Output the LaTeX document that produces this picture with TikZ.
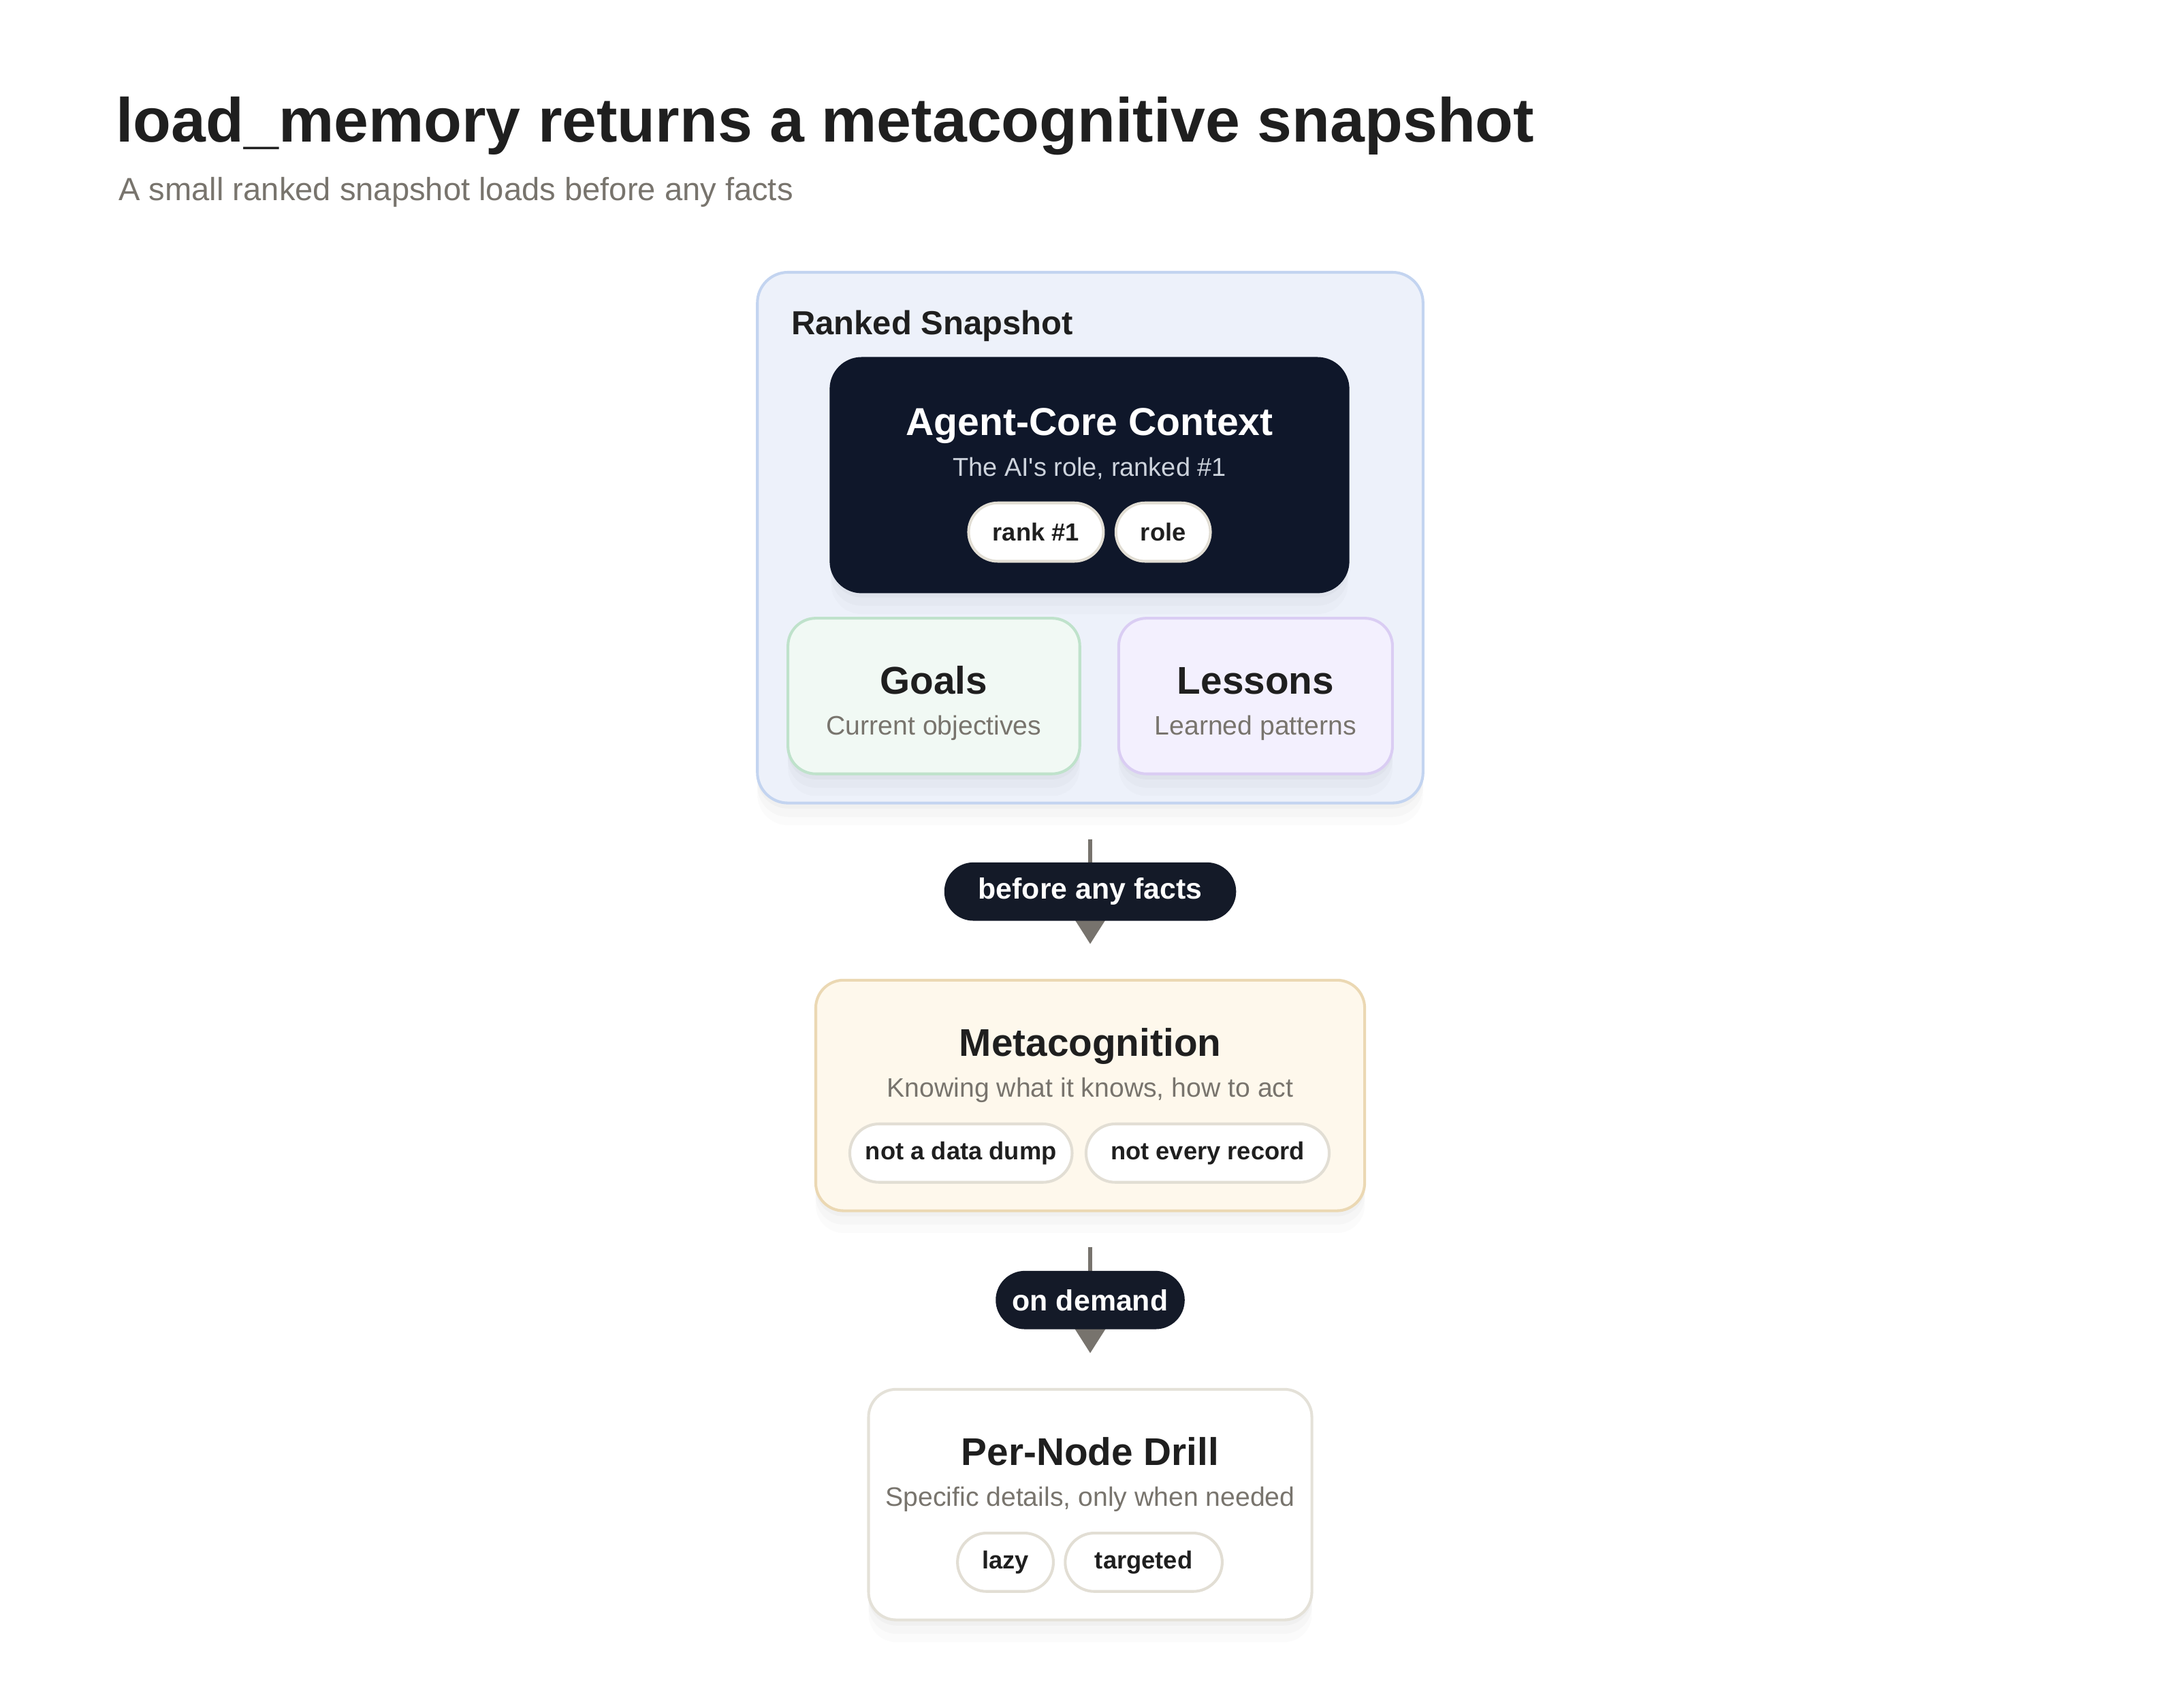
\documentclass[tikz,border=0pt]{standalone}
\usepackage{fontspec}
\setmainfont{Liberation Sans}
\usetikzlibrary{arrows.meta,shadows}

\definecolor{ink}{HTML}{1F1F1F}
\definecolor{muted}{HTML}{78746D}
\definecolor{navy}{HTML}{0F172A}
\definecolor{tagnavy}{HTML}{141A28}
\definecolor{coresub}{HTML}{CDD3DC}
\definecolor{pillrim}{HTML}{E2DED4}
\definecolor{snapfill}{HTML}{EDF1FA}
\definecolor{snaprim}{HTML}{C3D4F0}
\definecolor{goalfill}{HTML}{F1F9F4}
\definecolor{goalrim}{HTML}{BFE2CB}
\definecolor{lessonfill}{HTML}{F3F0FE}
\definecolor{lessonrim}{HTML}{DACDF3}
\definecolor{metafill}{HTML}{FEF8EC}
\definecolor{metarim}{HTML}{EBD8B3}
\definecolor{drillrim}{HTML}{E4E1D8}
\definecolor{wire}{HTML}{77736D}

\begin{document}
\begin{tikzpicture}
    [x=0.5pt, y=-0.5pt,
    card/.style={draw, line width=1pt, rounded corners=10pt,
        general shadow={shadow yshift=-2pt, opacity=0.025, fill=black},
        general shadow={shadow yshift=-5pt, opacity=0.02, fill=black},
        general shadow={shadow yshift=-8pt, opacity=0.015, fill=black}},
    pill/.style={draw=pillrim, fill=white, line width=1pt, rounded corners=10.5pt,
        minimum height=21pt, inner sep=0pt, text=ink,
        font=\fontsize{8.9}{10}\selectfont\bfseries},
    tag/.style={fill=tagnavy, rounded corners=10.5pt, minimum height=21pt,
        inner sep=0pt, text=white, font=\fontsize{10.5}{12}\selectfont\bfseries},
    flow/.style={draw=wire, line width=1.5pt,
        -{Triangle[width=11pt,length=9pt]},
        shorten <=12.5pt, shorten >=12.5pt},
    heading/.style={anchor=base, text=ink, font=\fontsize{13.9}{16}\selectfont\bfseries},
    caption/.style={anchor=base, text=muted, font=\fontsize{9.6}{11}\selectfont}
    ]
    \useasboundingbox[fill=white] (0,0) rectangle (1568,1229);

    % title
    \node (title) [anchor=base west, inner sep=0pt, text=ink,
        font=\fontsize{22.4}{26}\selectfont\bfseries] at (83,102)
        {load\_memory returns a metacognitive snapshot};
    \node (subtitle) [anchor=base west, inner sep=0pt, text=muted,
        font=\fontsize{11.55}{14}\selectfont] at (85,144.5)
        {A small ranked snapshot loads before any facts};

    % ranked snapshot
    \node (snap) [card, draw=snaprim, fill=snapfill, rounded corners=11pt,
        minimum width=239.5pt, minimum height=191pt] at (784.5,387) {};
    \node (snaplabel) [anchor=base west, inner sep=0pt, text=ink,
        font=\fontsize{12}{14}\selectfont\bfseries] at (569,241) {Ranked Snapshot};

    \node (core) [card, draw=navy, fill=navy, rounded corners=11pt,
        minimum width=186pt, minimum height=84pt] at (784,342) {};
    \node (coretitle) [anchor=base, text=white,
        font=\fontsize{14}{16}\selectfont\bfseries] at (784,313.5) {Agent-Core Context};
    \node (coresub) [anchor=base, text=coresub,
        font=\fontsize{9.3}{11}\selectfont] at (784,343) {The AI\textquotesingle s role, ranked \#1};
    \node (rank) [pill, minimum width=48.5pt] at (745.5,383) {rank \#1};
    \node (role) [pill, minimum width=34pt] at (837,383) {role};

    \node (goals) [card, draw=goalrim, fill=goalfill,
        minimum width=105pt, minimum height=56pt] at (672,501) {};
    \node (goalstitle) [heading] at (672,499.5) {Goals};
    \node (goalssub) [caption] at (672,529) {Current objectives};

    \node (lessons) [card, draw=lessonrim, fill=lessonfill,
        minimum width=98.5pt, minimum height=56pt] at (903.5,501) {};
    \node (lessonstitle) [heading] at (903.5,499.5) {Lessons};
    \node (lessonssub) [caption] at (903.5,529) {Learned patterns};

    % metacognition
    \node (meta) [card, draw=metarim, fill=metafill,
        minimum width=197.5pt, minimum height=83pt] at (784.5,788.5) {};
    \node (metatitle) [heading] at (784.5,760) {Metacognition};
    \node (metasub) [caption] at (784.5,789.5) {Knowing what it knows, how to act};
    \node (dump) [pill, minimum width=80pt] at (691.5,830) {not a data dump};
    \node (record) [pill, minimum width=87.5pt] at (869,830) {not every record};

    % per-node drill
    \node (drill) [card, draw=drillrim, fill=white,
        minimum width=159.5pt, minimum height=83pt] at (784.5,1083) {};
    \node (drilltitle) [heading] at (784.5,1054.5) {Per-Node Drill};
    \node (drillsub) [caption] at (784.5,1084) {Specific details, only when needed};
    \node (lazy) [pill, minimum width=34.5pt] at (723.5,1124.5) {lazy};
    \node (targeted) [pill, minimum width=56.5pt] at (823,1124.5) {targeted};

    % flow
    \draw [flow] (snap) -- node (before) [tag, minimum width=105pt] {before any facts} (meta);
    \draw [flow] (meta) -- node (demand) [tag, minimum width=68pt] {on demand} (drill);
\end{tikzpicture}
\end{document}
